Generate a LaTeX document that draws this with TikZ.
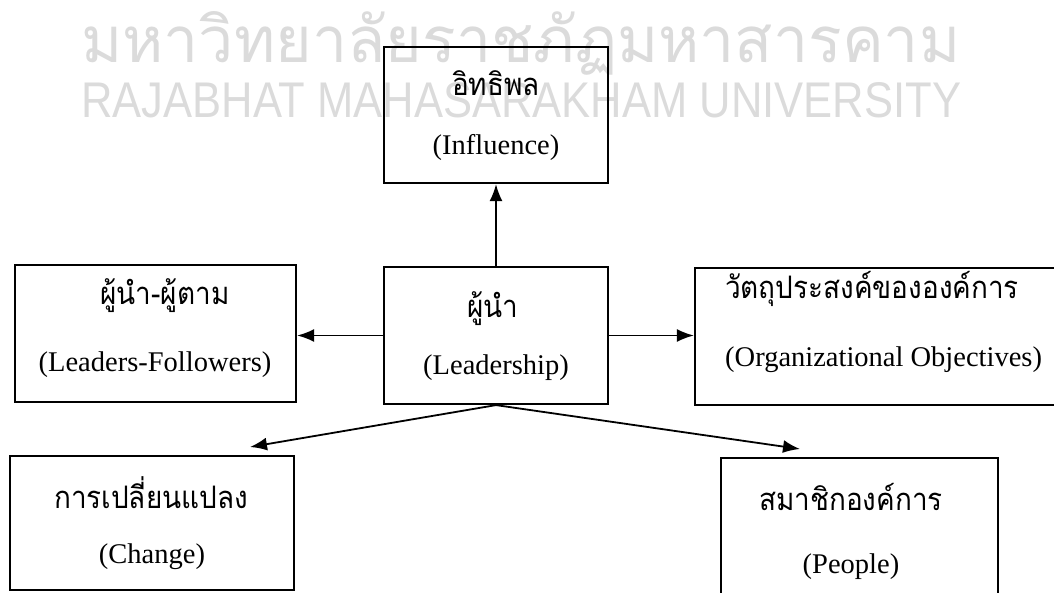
\documentclass[tikz,border=0pt]{standalone}
\usepackage{fontspec}
\setmainfont{Liberation Serif}
\newfontfamily\thaifont[Script=Thai,FakeStretch=0.9]{Loma}
\newfontfamily\wmthaifont[Script=Thai]{Loma}
\newfontfamily\wmarkfont{Liberation Sans}
\usetikzlibrary{arrows.meta}
\begin{document}
\begin{tikzpicture}[x=1pt,y=-1pt,
  box/.style={draw, line width=2.2pt, inner sep=0pt},
  thai/.style={font=\thaifont\fontsize{31}{36}\selectfont, inner sep=0pt, anchor=base},
  eng/.style={font=\fontsize{28.5}{34}\selectfont, inner sep=0pt},
  link/.style={line width=1.8pt, -{Latex[length=17pt,width=13pt]}},
  wmark/.style={text=black!14, inner sep=0pt, anchor=base west}]
\useasboundingbox (0,0) rectangle (1054,593);

% watermark behind everything
\node[wmark] (wmth) at (81,63) {\resizebox{879pt}{51pt}{\wmthaifont มหาวิทยาลัยราชภัฏมหาสารคาม}};
\node[wmark] (wmen) at (81,118) {\resizebox{880pt}{35pt}{\wmarkfont RAJABHAT MAHASARAKHAM UNIVERSITY}};

% boxes
\node[box, minimum width=224pt, minimum height=136pt] (infl) at (496,115) {};
\node[box, minimum width=224pt, minimum height=137pt] (lead) at (496,335.5) {};
\node[box, minimum width=281pt, minimum height=137pt] (lf) at (155.5,333.5) {};
\node[box, minimum width=365pt, minimum height=137pt] (org) at (877.5,336.5) {};
\node[box, minimum width=284pt, minimum height=134pt] (chg) at (152,523) {};
\node[box, minimum width=277pt, minimum height=140pt] (ppl) at (859.5,528) {};

% labels
\node[thai] (inflth) at (496,96) {อิทธิพล};
\node[eng] (inflen) at (496,148) {(Influence)};
\node[thai] (leadth) at (493,318) {ผู้นำ};
\node[eng] (leaden) at (496,368) {(Leadership)};
\node[thai] (lfth) at (165,305) {ผู้นำ-ผู้ตาม};
\node[eng] (lfen) at (155,365) {(Leaders-Followers)};
\node[thai, anchor=base west] (orgth) at (725,299) {วัตถุประสงค์ขององค์การ};
\node[eng, anchor=west] (orgen) at (725,360) {(Organizational Objectives)};
\node[thai] (chgth) at (151,508) {การเปลี่ยนแปลง};
\node[eng] (chgen) at (152,557) {(Change)};
\node[thai] (pplth) at (851,510) {สมาชิกองค์การ};
\node[eng] (pplen) at (851,567) {(People)};

% arrow tips above the lower boxes
\coordinate (chgtip) at (250,447);
\coordinate (ppltip) at (800,449);

% connectors
\draw[link] (lead.north) -- (infl.south);
\draw[link] (lead.west) -- (lf.east |- lead.west);
\draw[link] (lead.east) -- (org.west |- lead.east);
\draw[link] (lead.south) -- (chgtip);
\draw[link] (lead.south) -- (ppltip);
\end{tikzpicture}
\end{document}
